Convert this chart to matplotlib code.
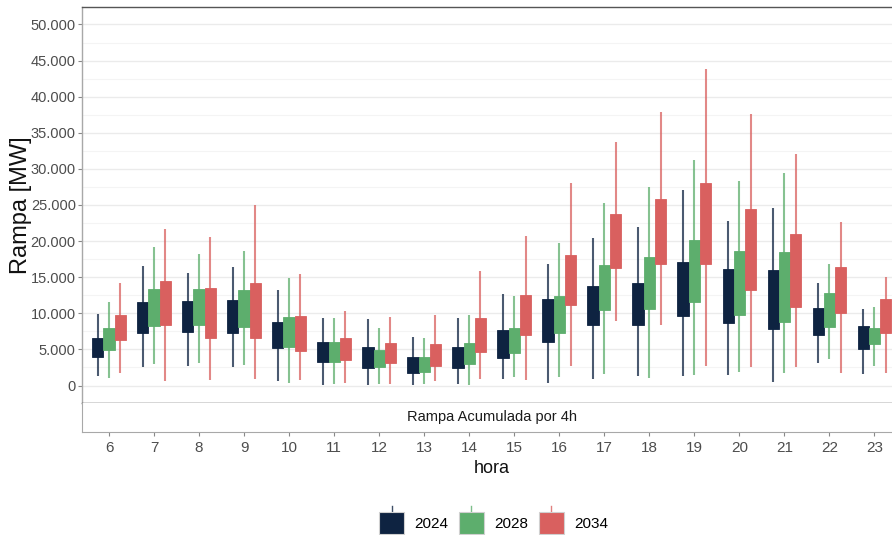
import matplotlib
matplotlib.use("Agg")
import matplotlib.pyplot as plt
import numpy as np
from matplotlib.legend_handler import HandlerBase
from matplotlib.patches import Rectangle
from matplotlib.lines import Line2D
from matplotlib.ticker import FuncFormatter, MultipleLocator

plt.rcParams['font.family'] = ['Liberation Sans', 'DejaVu Sans']

hours = [6, 7, 8, 9, 10, 11, 12, 13, 14, 15, 16, 17, 18, 19, 20, 21, 22, 23]
series = ['2024', '2028', '2034']
colors = ['#0E2341', '#5DAE6D', '#D9605F']

# min, q1, q3, max per hour
min_2024 = [1310, 2600, 2690, 2600, 580, 70, 70, 70, 200, 860, 390, 860, 1310, 1310, 1410, 480, 3070, 1590]
q1_2024 = [3900, 7210, 7390, 7300, 5140, 3210, 2380, 1770, 2460, 3840, 6060, 8360, 8360, 9650, 8600, 7850, 6980, 5040]
q3_2024 = [6610, 11540, 11680, 11820, 8730, 5970, 5360, 3900, 5360, 7710, 12050, 13840, 14260, 17160, 16140, 15960, 10750, 8260]
max_2024 = [9880, 16510, 15640, 16420, 13290, 9370, 9150, 6700, 9370, 12740, 16790, 20480, 21950, 27110, 22780, 24630, 14170, 10530]

min_2028 = [1000, 2970, 3070, 2870, 390, 200, 200, 200, 70, 1130, 1220, 1550, 990, 1450, 1820, 1690, 3620, 2690]
q1_2028 = [4860, 8220, 8400, 8040, 5360, 3210, 2560, 1910, 2930, 4530, 7210, 10430, 10610, 11580, 9740, 8730, 8040, 5690]
q3_2028 = [7990, 13430, 13340, 13290, 9510, 5970, 4900, 3900, 5870, 7900, 12410, 16750, 17800, 20150, 18630, 18490, 12830, 7900]
max_2028 = [11580, 19180, 18270, 18680, 14860, 9370, 7900, 6520, 9740, 12410, 19690, 25310, 27470, 31300, 28300, 29460, 16830, 10810]

min_2034 = [1690, 580, 760, 940, 760, 390, 200, 580, 860, 760, 2690, 8910, 8360, 2740, 2600, 2600, 1690, 1770]
q1_2034 = [6290, 8400, 6560, 6610, 4810, 3480, 3070, 2740, 4590, 6980, 11120, 16330, 16890, 16790, 13240, 10810, 10060, 7210]
q3_2034 = [9700, 14480, 13520, 14210, 9560, 6520, 5870, 5690, 9420, 12500, 18130, 23740, 25820, 28080, 24490, 21030, 16420, 12000]
max_2034 = [14210, 21630, 20520, 24950, 15450, 10300, 9510, 9700, 15870, 20660, 28080, 33790, 37840, 43840, 37620, 32090, 22640, 15040]

data = [
    (min_2024, q1_2024, q3_2024, max_2024),
    (min_2028, q1_2028, q3_2028, max_2028),
    (min_2034, q1_2034, q3_2034, max_2034),
]

W, H = 892, 535
fig = plt.figure(figsize=(W / 100, H / 100), dpi=100)
left_px, right_px = 82, 901.5
ax = fig.add_axes([left_px / W, (H - 403) / H, (right_px - left_px) / W, 396 / H])
sx = fig.add_axes([left_px / W, (H - 432) / H, (right_px - left_px) / W, 29 / H], sharex=ax)

x = np.array(hours, dtype=float)
bw = 0.25
for i, (mn, q1, q3, mx) in enumerate(data):
    xi = x + (i - 1) * bw
    ax.vlines(xi, mn, mx, color=colors[i], lw=1.5, alpha=0.75, zorder=2)
    q1a = np.array(q1); q3a = np.array(q3)
    ax.bar(xi, q3a - q1a, bottom=q1a, width=bw, color=colors[i],
           edgecolor=colors[i], linewidth=0.6, zorder=3)

ax.set_xlim(5.4, 23.6)
ax.set_ylim(-2420, 52420)
ax.yaxis.set_major_locator(MultipleLocator(5000))
ax.yaxis.set_minor_locator(MultipleLocator(2500))
ax.yaxis.set_major_formatter(FuncFormatter(lambda v, p: f"{int(round(v)):,}".replace(',', '.')))
ax.grid(which='major', axis='y', color='#EBEBEB', lw=1.0, zorder=0)
ax.grid(which='minor', axis='y', color='#F4F4F4', lw=0.8, zorder=0)
ax.grid(which='both', axis='x', visible=False)
ax.set_axisbelow(True)
ax.tick_params(axis='y', which='major', length=3, width=0.8, color='#888888',
               labelcolor='#4D4D4D', labelsize=10.5, pad=1.5)
ax.tick_params(axis='y', which='minor', length=0)
ax.tick_params(axis='x', which='both', bottom=False, labelbottom=False)

ax.spines['top'].set_color('#555555')
ax.spines['top'].set_linewidth(1.0)
ax.spines['left'].set_color('#A8A8A8')
ax.spines['left'].set_linewidth(1.0)
ax.spines['right'].set_visible(False)
ax.spines['bottom'].set_color('#333333')
ax.spines['bottom'].set_linewidth(1.0)

ax.set_ylabel('Rampa [MW]', fontsize=17, color='#111111')
ax.yaxis.set_label_coords(-0.061, 0.5)

# strip
sx.set_yticks([])
sx.spines['top'].set_visible(False)
sx.spines['right'].set_visible(False)
sx.spines['left'].set_color('#A8A8A8')
sx.spines['bottom'].set_color('#A8A8A8')
sx.set_facecolor('white')
sx.text(0.5, 0.5, 'Rampa Acumulada por 4h', transform=sx.transAxes, ha='center',
        va='center', fontsize=10.5, color='#1A1A1A')
sx.set_xticks(hours)
sx.set_xticklabels([str(h) for h in hours])
sx.tick_params(axis='x', length=3, width=0.8, color='#888888', labelcolor='#4D4D4D',
               labelsize=11, pad=3.5)
sx.set_xlabel('hora', fontsize=13, color='#111111')
sx.xaxis.set_label_coords(0.5, -0.95)


class KeyHandle:
    def __init__(self, color):
        self.color = color


class KeyHandler(HandlerBase):
    def create_artists(self, legend, orig_handle, xdescent, ydescent, width, height, fontsize, trans):
        r = Rectangle((-xdescent, -ydescent), width, height, facecolor=orig_handle.color,
                      edgecolor='#D0D0D0', lw=0.8, transform=trans)
        cx = -xdescent + width / 2
        l = Line2D([cx, cx], [-ydescent - height * 0.25, -ydescent + height * 1.25],
                   color=orig_handle.color, lw=1.0, alpha=0.8, transform=trans)
        return [l, r]


handles = [KeyHandle(c) for c in colors]
fig.legend(handles, series, handler_map={KeyHandle: KeyHandler()}, loc='center',
           bbox_to_anchor=(493.4 / W, (H - 523) / H), ncol=3, frameon=False,
           fontsize=11, handlelength=1.65, handleheight=1.84, handletextpad=0.65,
           columnspacing=0.7, borderpad=0, borderaxespad=0)

fig.savefig('out.png', dpi=100)
